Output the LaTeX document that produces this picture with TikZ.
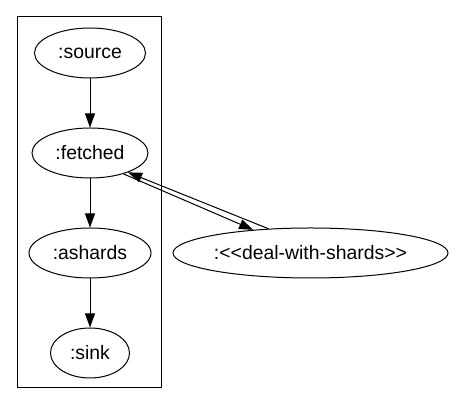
\documentclass[tikz,border=0pt]{standalone}
\usepackage{fontspec}
\setmainfont{Liberation Sans}
\usetikzlibrary{shapes.geometric,arrows.meta}
\tikzset{
  gnode/.style={draw, ellipse, line width=1pt, minimum height=50pt, inner sep=0pt,
    font=\fontsize{19.4}{23}\selectfont},
  garrow/.style={line width=1pt, -{Triangle[length=14pt,width=10pt]}},
  clusterbox/.style={draw, line width=1pt}
}
\begin{document}
\begin{tikzpicture}[x=1pt,y=1pt]
\useasboundingbox (0,0) rectangle (453,406);
\draw[clusterbox] (17,18) rectangle (161,389);
\node[gnode, minimum width=111pt] (src) at (90,353) {:source};
\node[gnode, minimum width=116pt] (fet) at (90,253) {:fetched};
\node[gnode, minimum width=122pt] (ash) at (90,153) {:ashards};
\node[gnode, minimum width=79pt] (snk) at (90,53) {:sink};
\node[gnode, minimum width=275pt] (deal) at (310.5,153) {:<\kern0pt<deal-with-shards>\kern0pt>};
\draw[garrow] (src) -- (fet);
\draw[garrow] (fet) -- (ash);
\draw[garrow] (ash) -- (snk);
\draw[garrow] (fet.-32.5) -- (deal.158.5);
\draw[garrow] (deal.150.75) -- (fet.-27);
\end{tikzpicture}
\end{document}
